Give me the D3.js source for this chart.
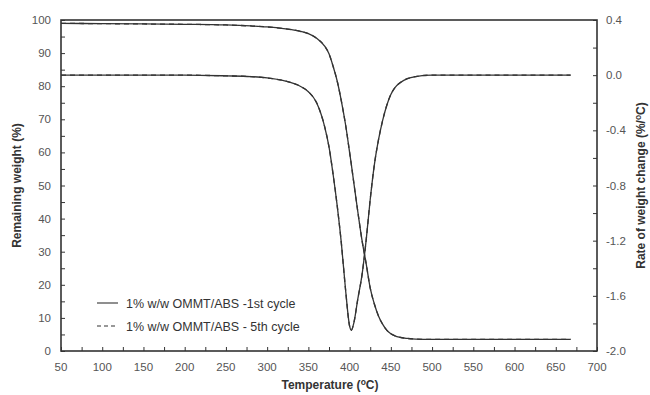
<!DOCTYPE html>
<html>
<head>
<meta charset="utf-8">
<script src="https://cdn.jsdelivr.net/npm/d3@7"></script>
<style>
  html, body { margin: 0; padding: 0; background: #fff; }
  svg { display: block; font-family: "Liberation Sans", Arial, sans-serif; }
</style>
</head>
<body>
<svg id="chart" width="650" height="395"></svg>
<script>
// Thermogravimetric data, 1% w/w OMMT/ABS
const temperature = [50, 100, 150, 200, 250, 280, 300, 320, 340, 350, 360, 370, 375, 380, 385, 390, 395, 400, 402, 405, 410, 415, 420, 425, 430, 435, 440, 445, 450, 455, 460, 470, 480, 500, 550, 600, 668];

// Remaining weight (%)
const weight1st = [99.0, 98.9, 98.8, 98.7, 98.5, 98.2, 97.9, 97.4, 96.6, 95.9, 94.5, 92.0, 89.8, 86.0, 81.5, 75.5, 68.5, 60.0, 56.5, 51.0, 42.0, 33.5, 26.5, 19.0, 14.2, 10.6, 8.1, 6.3, 5.2, 4.6, 4.2, 3.8, 3.6, 3.5, 3.5, 3.5, 3.5];
const weight5th = [99.0, 98.9, 98.8, 98.7, 98.5, 98.2, 97.9, 97.4, 96.6, 95.9, 94.5, 92.0, 89.8, 86.0, 81.5, 75.5, 68.5, 60.0, 56.5, 51.0, 42.0, 33.5, 26.5, 19.0, 14.2, 10.6, 8.1, 6.3, 5.2, 4.6, 4.2, 3.8, 3.6, 3.5, 3.5, 3.5, 3.5];

// Rate of weight change (%/°C)
const rate1st = [0.0, 0.0, 0.0, 0.0, -0.005, -0.01, -0.02, -0.04, -0.08, -0.12, -0.2, -0.38, -0.52, -0.72, -0.95, -1.22, -1.55, -1.82, -1.85, -1.8, -1.62, -1.45, -1.2, -0.9, -0.65, -0.47, -0.33, -0.22, -0.14, -0.09, -0.06, -0.025, -0.01, 0.0, 0.0, 0.0, 0.0];
const rate5th = [0.0, 0.0, 0.0, 0.0, -0.005, -0.01, -0.02, -0.04, -0.08, -0.12, -0.2, -0.38, -0.52, -0.72, -0.95, -1.22, -1.55, -1.82, -1.85, -1.8, -1.62, -1.45, -1.2, -0.9, -0.65, -0.47, -0.33, -0.22, -0.14, -0.09, -0.06, -0.025, -0.01, 0.0, 0.0, 0.0, 0.0];

// Axis ticks
const xTickLabels = [50, 100, 150, 200, 250, 300, 350, 400, 450, 500, 550, 600, 650, 700];
const weightTickLabels = [0, 10, 20, 30, 40, 50, 60, 70, 80, 90, 100];
const rateTickLabels = [0.4, 0.0, -0.4, -0.8, -1.2, -1.6, -2.0];

const legendLabels = ["1% w/w OMMT/ABS -1st cycle", "1% w/w OMMT/ABS - 5th cycle"];

const svg = d3.select("#chart");
const plot = { left: 61, right: 597, top: 20, bottom: 351 };
const ink = "#333";
const labelInk = "#555";
const tickFont = 11.5;
const titleFont = 12;

const x = d3.scaleLinear().domain([50, 700]).range([plot.left, plot.right]);
const yW = d3.scaleLinear().domain([0, 100]).range([plot.bottom, plot.top]);
const yR = d3.scaleLinear().domain([-2.0, 0.4]).range([plot.bottom, plot.top]);

// Ticks, all pointing into the plot
const tickLen = 4;
const xAxis = svg.append("g").attr("transform", `translate(0,${plot.bottom})`)
  .call(d3.axisTop(x).tickValues(d3.range(50, 701, 25)).tickSize(tickLen).tickFormat(""));
const yAxisL = svg.append("g").attr("transform", `translate(${plot.left},0)`)
  .call(d3.axisRight(yW).tickValues(d3.range(0, 101, 5)).tickSize(tickLen).tickFormat(""));
const yAxisR = svg.append("g").attr("transform", `translate(${plot.right},0)`)
  .call(d3.axisLeft(yR).tickValues(d3.range(-10, 3).map(v => v * 0.2)).tickSize(tickLen).tickFormat(""));
[xAxis, yAxisL, yAxisR].forEach(g => {
  g.select(".domain").remove();
  g.selectAll(".tick line").attr("stroke", ink).attr("stroke-width", 1);
});

// Tick labels
svg.append("g").selectAll("text").data(xTickLabels).join("text")
  .attr("x", d => x(d)).attr("y", plot.bottom + 20)
  .attr("text-anchor", "middle").attr("font-size", tickFont).attr("fill", labelInk)
  .text(d => d);
svg.append("g").selectAll("text").data(weightTickLabels).join("text")
  .attr("x", plot.left - 10).attr("y", d => yW(d) + 4)
  .attr("text-anchor", "end").attr("font-size", tickFont).attr("fill", labelInk)
  .text(d => d);
svg.append("g").selectAll("text").data(rateTickLabels).join("text")
  .attr("x", plot.right + 9).attr("y", d => yR(d) + 4)
  .attr("text-anchor", "start").attr("font-size", tickFont).attr("fill", labelInk)
  .text(d => d3.format(".1f")(d).replace("−", "-"));

// Frame
svg.append("rect")
  .attr("x", plot.left).attr("y", plot.top)
  .attr("width", plot.right - plot.left).attr("height", plot.bottom - plot.top)
  .attr("fill", "none").attr("stroke", ink).attr("stroke-width", 1.6);

// Curves
const weightLine = vals => d3.line().x((d, i) => x(temperature[i])).y(d => yW(d)).curve(d3.curveMonotoneX)(vals);
const rateLine = vals => d3.line().x((d, i) => x(temperature[i])).y(d => yR(d)).curve(d3.curveMonotoneX)(vals);

const series = [
  { path: weightLine(weight5th), dash: "5,4" },
  { path: rateLine(rate5th), dash: "5,4" },
  { path: weightLine(weight1st), dash: null },
  { path: rateLine(rate1st), dash: null }
];
svg.append("g").selectAll("path").data(series).join("path")
  .attr("d", d => d.path)
  .attr("fill", "none").attr("stroke", ink).attr("stroke-width", 1.3)
  .attr("stroke-dasharray", d => d.dash);

// Legend
const legend = svg.append("g");
legendLabels.forEach((label, i) => {
  const ly = 303 + i * 23;
  legend.append("line")
    .attr("x1", 97).attr("x2", 118).attr("y1", ly).attr("y2", ly)
    .attr("stroke", ink).attr("stroke-width", 1.1)
    .attr("stroke-dasharray", i === 1 ? "4,3" : null);
  legend.append("text")
    .attr("x", 126).attr("y", ly + 4.5)
    .attr("font-size", 12.5).attr("fill", ink)
    .text(label);
});

// Axis titles
const xTitle = svg.append("text")
  .attr("x", 330).attr("y", 389)
  .attr("text-anchor", "middle").attr("font-size", titleFont).attr("font-weight", "bold").attr("fill", ink);
xTitle.append("tspan").text("Temperature (");
xTitle.append("tspan").attr("font-size", 8.5).attr("dy", -4).text("o");
xTitle.append("tspan").attr("dy", 4).text("C)");

svg.append("text")
  .attr("transform", `translate(21,${(plot.top + plot.bottom) / 2}) rotate(-90)`)
  .attr("text-anchor", "middle").attr("font-size", titleFont).attr("font-weight", "bold").attr("fill", ink)
  .text("Remaining weight (%)");

const rTitle = svg.append("text")
  .attr("transform", `translate(645,${(plot.top + plot.bottom) / 2}) rotate(-90)`)
  .attr("text-anchor", "middle").attr("font-size", titleFont).attr("font-weight", "bold").attr("fill", ink);
rTitle.append("tspan").text("Rate of weight change (%/");
rTitle.append("tspan").attr("font-size", 8.5).attr("dy", -4).text("o");
rTitle.append("tspan").attr("dy", 4).text("C)");
</script>
</body>
</html>
